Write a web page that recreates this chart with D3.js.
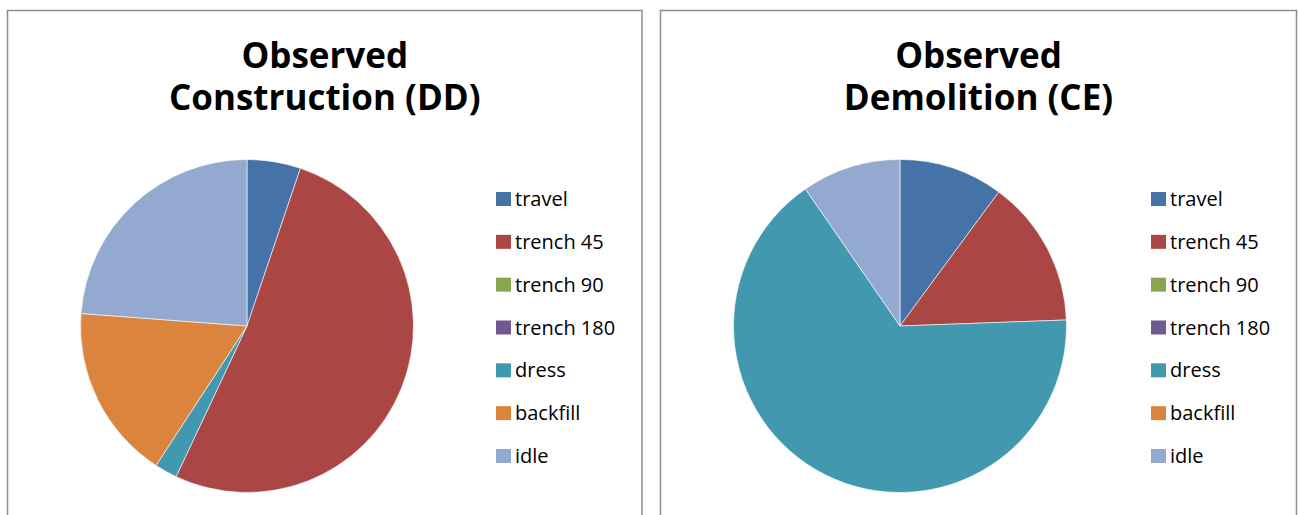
<!DOCTYPE html>
<html>
<head>
<meta charset="utf-8">
<script src="https://cdn.jsdelivr.net/npm/d3@7"></script>
<style>
  html, body { margin: 0; padding: 0; background: #fff; }
  svg { display: block; }
  text { font-family: "Open Sans", "DejaVu Sans", sans-serif; fill: #000; }
</style>
</head>
<body>
<svg id="chart" width="1299" height="515"></svg>
<script>
// Activity categories shared by both charts
const categories = ["travel", "trench 45", "trench 90", "trench 180", "dress", "backfill", "idle"];
const categoryColors = ["#4572A7", "#AA4643", "#89A54E", "#71588F", "#4198AF", "#DB843D", "#93A9CF"];

// Share of observed time per activity (%)
const constructionShare = [5.2, 51.8, 0, 0, 2.2, 17.0, 23.8];
const demolitionShare = [10.1, 14.3, 0, 0, 65.9, 0, 9.6];

const constructionTitle = ["Observed", "Construction (DD)"];
const demolitionTitle = ["Observed", "Demolition (CE)"];

const svg = d3.select("#chart");
const color = d3.scaleOrdinal().domain(categories).range(categoryColors);

const panels = [
  { x0: 7.5, x1: 642, title: constructionTitle, values: constructionShare, cx: 247, legendX: 496 },
  { x0: 660.5, x1: 1296.5, title: demolitionTitle, values: demolitionShare, cx: 900, legendX: 1151 }
];

const pie = d3.pie().sort(null).value(d => d.value);
const radius = 166.5;
const arc = d3.arc().innerRadius(0).outerRadius(radius);
const cy = 326;

panels.forEach(p => {
  const g = svg.append("g");

  // panel frame
  g.append("rect")
    .attr("x", p.x0).attr("y", 10.5)
    .attr("width", p.x1 - p.x0).attr("height", 520)
    .attr("fill", "none")
    .attr("stroke", "#8f8f8f")
    .attr("stroke-width", 1.5);

  // two-line title
  const tcx = (p.x0 + p.x1) / 2;
  g.selectAll("text.title")
    .data(p.title)
    .join("text")
    .attr("class", "title")
    .attr("text-anchor", "middle")
    .attr("font-weight", "bold")
    .attr("font-size", 35)
    .attr("x", tcx)
    .attr("y", (d, i) => 68 + i * 42)
    .text(d => d);

  // pie
  const data = categories.map((c, i) => ({ category: c, value: p.values[i] }));
  g.append("g")
    .attr("transform", `translate(${p.cx},${cy})`)
    .selectAll("path")
    .data(pie(data).filter(d => d.data.value > 0))
    .join("path")
    .attr("d", arc)
    .attr("fill", d => color(d.data.category))
    .attr("stroke", "#ffffff")
    .attr("stroke-width", 0.6);

  // legend
  const rowY = d3.scalePoint().domain(categories).range([199, 456]);
  const items = g.append("g").selectAll("g")
    .data(categories)
    .join("g")
    .attr("transform", d => `translate(${p.legendX},${rowY(d)})`);
  items.append("rect")
    .attr("x", 0).attr("y", -7)
    .attr("width", 15).attr("height", 14)
    .attr("fill", d => color(d));
  items.append("text")
    .attr("x", 19).attr("y", 7)
    .attr("font-size", 20)
    .text(d => d);
});
</script>
</body>
</html>
